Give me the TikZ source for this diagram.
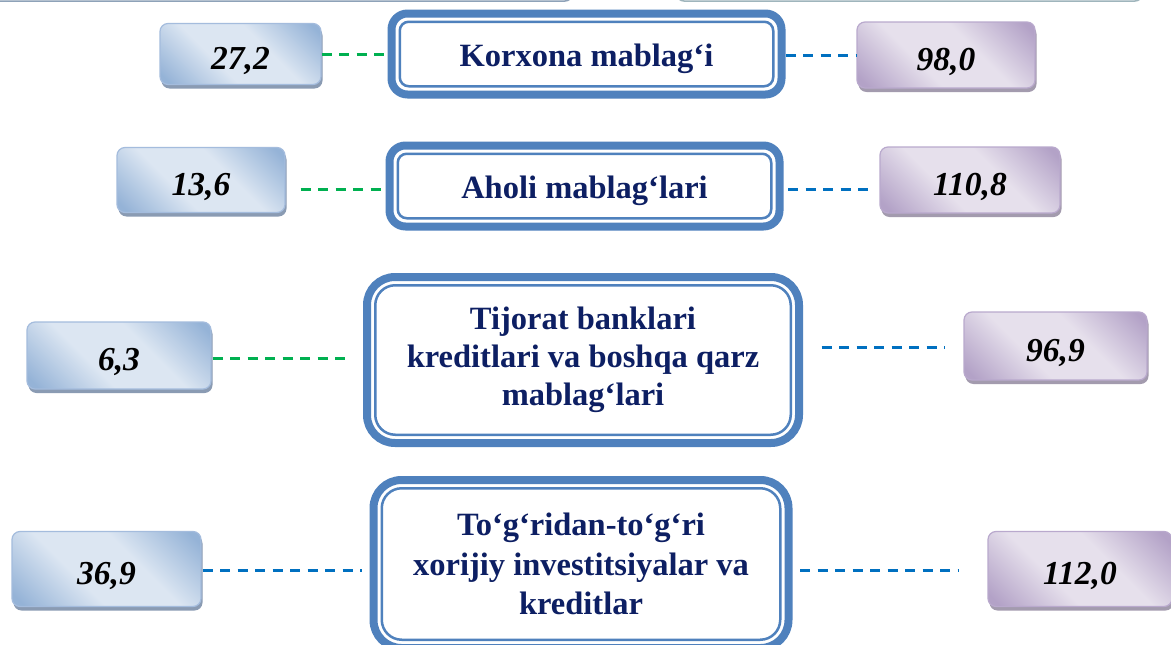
\documentclass[tikz,border=0pt]{standalone}
\usepackage{fontspec}
\setmainfont{Liberation Serif}
\usetikzlibrary{calc,shadows}
\definecolor{frameblue}{HTML}{4F81BD}
\definecolor{navy}{HTML}{0D1F63}
\definecolor{bdark}{HTML}{95B3D7}
\definecolor{blight}{HTML}{DCE6F2}
\definecolor{pdark}{HTML}{B3A2C7}
\definecolor{plight}{HTML}{E6E0EC}
\definecolor{bborder}{HTML}{A4BCDD}
\definecolor{pborder}{HTML}{B9A9CD}
\definecolor{bshadow}{HTML}{8A9BB3}
\definecolor{pshadow}{HTML}{A39BAE}
\definecolor{dgreen}{HTML}{00B050}
\definecolor{dblue}{HTML}{0070C0}
\definecolor{topleftc}{HTML}{8EA2B8}
\definecolor{toprightc}{HTML}{9FB5BC}
\pgfdeclarehorizontalshading{bluesh}{100bp}{color(0bp)=(bdark); color(18bp)=(bdark); color(40bp)=(blight); color(60bp)=(blight); color(82bp)=(bdark); color(100bp)=(bdark)}
\pgfdeclarehorizontalshading{purplesh}{100bp}{color(0bp)=(pdark); color(18bp)=(pdark); color(40bp)=(plight); color(60bp)=(plight); color(82bp)=(pdark); color(100bp)=(pdark)}
\tikzset{
  numbox/.style={rounded corners=8pt, draw, line width=1.2pt, font=\fontsize{33.5}{40}\selectfont\bfseries\itshape, text=black, inner sep=0pt, text height=30pt, text depth=0pt},
  bnum/.style={numbox, draw=bborder, shading=bluesh, shading angle=45, drop shadow={shadow xshift=1.5pt, shadow yshift=-4pt, fill=bshadow, opacity=1}},
  pnum/.style={numbox, draw=pborder, shading=purplesh, shading angle=45, drop shadow={shadow xshift=1.5pt, shadow yshift=-4pt, fill=pshadow, opacity=1}},
  centerbox/.style={draw=frameblue, line width=8pt, rounded corners=#1, fill=white, align=center, text=navy, font=\fontsize{32.5}{38}\selectfont\bfseries, inner sep=0pt},
  oneline/.style={text height=24pt, text depth=0pt},
  innerframe/.style={draw=frameblue, line width=2.5pt, rounded corners=#1},
  gdash/.style={draw=dgreen, line width=3pt, dash pattern=on 10pt off 7.5pt},
  bdash/.style={draw=dblue, line width=3pt, dash pattern=on 10pt off 7.5pt},
}
\begin{document}
\begin{tikzpicture}[x=1pt,y=-1pt]
\useasboundingbox (0,0) rectangle (1171,645);
\clip (0,0) rectangle (1171,645);
\fill[white] (0,0) rectangle (1171,645);
% remnants of boxes above
\draw[draw=topleftc, line width=1.5pt, fill=white, rounded corners=10pt] (-20,-60) rectangle (574,1.2);
\draw[draw=toprightc, line width=1.5pt, fill=white, rounded corners=10pt] (675,-60) rectangle (1144,1.2);

% number boxes
\node[bnum, minimum width=161pt, minimum height=61pt] (n1l) at (240.5,54) {27,2};
\node[pnum, minimum width=178pt, minimum height=66pt] (n1r) at (946,55) {98,0};
\node[bnum, minimum width=168pt, minimum height=65pt] (n2l) at (201,180) {13,6};
\node[pnum, minimum width=180pt, minimum height=66pt] (n2r) at (970,180) {110,8};
\node[bnum, minimum width=184pt, minimum height=67pt] (n3l) at (119,355.5) {6,3};
\node[pnum, minimum width=183pt, minimum height=68pt] (n3r) at (1055.5,346) {96,9};
\node[bnum, minimum width=189pt, minimum height=75pt] (n4l) at (106.5,569) {36,9};
\node[pnum, minimum width=184pt, minimum height=75pt] (n4r) at (1080,569) {112,0};

% centre boxes
\node[centerbox=16pt, oneline, minimum width=390pt, minimum height=81pt] (c1) at (586.5,54) {Korxona mablag‘i};
\node[centerbox=16pt, oneline, minimum width=390pt, minimum height=81pt] (c2) at (584.5,186) {Aholi mablag‘lari};
\node[centerbox=28pt, minimum width=432pt, minimum height=166pt] (c3) at (583,360) {Tijorat banklari\\kreditlari va boshqa qarz\\mablag‘lari};
\node[centerbox=28pt, minimum width=415pt, minimum height=168pt, font=\fontsize{32.5}{39.5}\selectfont\bfseries] (c4) at (581,564) {To‘g‘ridan-to‘g‘ri\\xorijiy investitsiyalar va\\kreditlar};

% inner frames (anchors lie on the outer edge of the thick line)
\draw[innerframe=9pt] ($(c1.north west)+(12.25,12.25)$) rectangle ($(c1.south east)+(-12.25,-12.25)$);
\draw[innerframe=9pt] ($(c2.north west)+(12.25,12.25)$) rectangle ($(c2.south east)+(-12.25,-12.25)$);
\draw[innerframe=20pt] ($(c3.north west)+(12.25,12.25)$) rectangle ($(c3.south east)+(-12.25,-12.25)$);
\draw[innerframe=20pt] ($(c4.north west)+(12.25,12.25)$) rectangle ($(c4.south east)+(-12.25,-12.25)$);

% connectors
\draw[gdash] (n1l.east) -- ($(n1l.east -| c1.west)+(-2.5,0)$);
\draw[bdash] (c1.east |- n1r.west) -- (n1r.west);
\draw[gdash] ($(n2l.east)+(15,9)$) -- ($(n2l.east -| c2.west)+(0,9)$);
\draw[bdash] ($(c2.east |- n2r.west)+(4.5,9)$) -- ($(n2r.west)+(-4,9)$);
\draw[gdash] ($(n3l.east)+(1,2.5)$) -- ($(n3l.east -| c3.west)+(-17.5,2.5)$);
\draw[bdash] ($(c3.east |- n3r.west)+(18.5,1)$) -- ($(n3r.west)+(-18.5,1)$);
\draw[bdash] ($(n4l.east)+(1,1)$) -- ($(n4l.east -| c4.west)+(-7.5,1)$);
\draw[bdash] ($(c4.east |- n4r.west)+(7.5,1)$) -- ($(n4r.west)+(-28,1)$);
\end{tikzpicture}
\end{document}
